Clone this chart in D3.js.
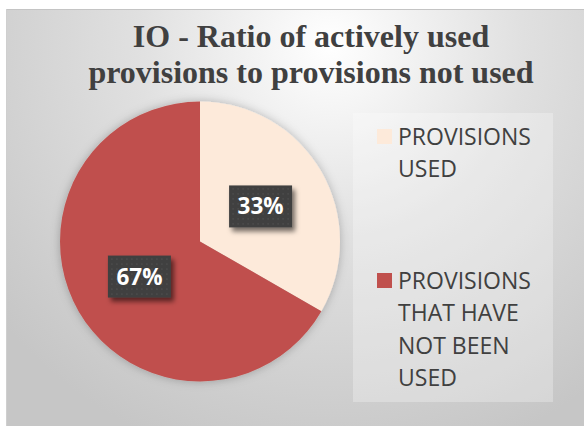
<!DOCTYPE html>
<html><head><meta charset="utf-8">
<script src="https://cdn.jsdelivr.net/npm/d3@7"></script>
<style>html,body{margin:0;padding:0;background:#fff;overflow:hidden}</style>
</head><body>
<script>
const titleLines = ["IO - Ratio of actively used", "provisions to provisions not used"];
const categories = ["PROVISIONS USED", "PROVISIONS THAT HAVE NOT BEEN USED"];
const values = [33.3, 66.7];
const legendLines = [["PROVISIONS", "USED"], ["PROVISIONS", "THAT HAVE", "NOT BEEN", "USED"]];
const colors = ["#FDEADA", "#C0504D"];

const W = 584, H = 426;
const svg = d3.select("body").append("svg").attr("width", W).attr("height", H);
const defs = svg.append("defs");

const bg = defs.append("radialGradient").attr("id", "bg").attr("gradientUnits", "userSpaceOnUse")
  .attr("cx", 330).attr("cy", 45).attr("r", 430);
bg.append("stop").attr("offset", 0).attr("stop-color", "#ffffff");
bg.append("stop").attr("offset", 0.45).attr("stop-color", "#e0e0e0");
bg.append("stop").attr("offset", 1).attr("stop-color", "#c6c6c6");

const pat = defs.append("pattern").attr("id", "dots").attr("patternUnits", "userSpaceOnUse")
  .attr("width", 5).attr("height", 5);
pat.append("rect").attr("width", 5).attr("height", 5).attr("fill", "#3f3f3f");
pat.append("rect").attr("x", 2).attr("y", 2).attr("width", 1).attr("height", 1).attr("fill", "#5e5e5e");

const sh = defs.append("filter").attr("id", "boxShadow").attr("x", "-30%").attr("y", "-30%").attr("width", "170%").attr("height", "170%");
sh.append("feDropShadow").attr("dx", 3).attr("dy", 4).attr("stdDeviation", 2.5).attr("flood-color", "#000").attr("flood-opacity", 0.55);

const psh = defs.append("filter").attr("id", "pieShadow").attr("x", "-20%").attr("y", "-20%").attr("width", "140%").attr("height", "140%");
psh.append("feDropShadow").attr("dx", 0).attr("dy", 0).attr("stdDeviation", 5).attr("flood-color", "#000").attr("flood-opacity", 0.25);

// chart area
svg.append("rect").attr("x", 6).attr("y", 9).attr("width", W - 6).attr("height", H - 9).attr("fill", "url(#bg)");
svg.append("line").attr("x1", 6).attr("x2", W).attr("y1", 9.5).attr("y2", 9.5).attr("stroke", "#c4c4c4").attr("stroke-width", 1);
svg.append("line").attr("x1", 6.5).attr("x2", 6.5).attr("y1", 9).attr("y2", H).attr("stroke", "#cfcfcf").attr("stroke-width", 1);

// title
const title = svg.append("text").attr("text-anchor", "middle")
  .attr("font-family", "'Liberation Serif','Times New Roman',serif").attr("font-weight", "bold")
  .attr("font-size", 32).attr("fill", "#404040");
titleLines.forEach((t, i) => title.append("tspan").attr("x", 311).attr("y", 47 + i * 36).text(t));

// pie
const cx = 200, cy = 241.5, R = 140;
const pie = d3.pie().sort(null).value(d => d)(values);
const arc = d3.arc().innerRadius(0).outerRadius(R);
const g = svg.append("g").attr("transform", `translate(${cx},${cy})`);
g.append("g").attr("filter", "url(#pieShadow)").selectAll("path").data(pie).join("path")
  .attr("d", arc).attr("fill", (d, i) => colors[i]);

const total = d3.sum(values);
const lbl = g.selectAll("g.lbl").data(pie).join("g").attr("class", "lbl")
  .attr("transform", d => `translate(${arc.centroid(d)})`);
lbl.append("rect").attr("x", -31.5).attr("y", -21).attr("width", 63).attr("height", 42)
  .attr("fill", "url(#dots)").attr("filter", "url(#boxShadow)");
lbl.append("text").attr("text-anchor", "middle").attr("dy", 8)
  .attr("font-family", "'Open Sans',sans-serif").attr("font-weight", "bold").attr("font-size", 22.5)
  .attr("fill", "#ffffff").text(d => Math.round(d.value / total * 100) + "%");

// legend
svg.append("rect").attr("x", 353).attr("y", 113).attr("width", 200).attr("height", 289)
  .attr("fill", "#ffffff").attr("fill-opacity", 0.28);
const itemY = [145, 289];
const lg = svg.selectAll("g.leg").data(categories).join("g").attr("class", "leg");
lg.append("rect").attr("x", 377).attr("y", (d, i) => itemY[i] - 16).attr("width", 15).attr("height", 15)
  .attr("fill", (d, i) => colors[i]);
lg.each(function (d, i) {
  const t = d3.select(this).append("text").attr("font-family", "'Open Sans',sans-serif")
    .attr("font-size", 23).attr("fill", "#404040");
  legendLines[i].forEach((ln, j) => t.append("tspan").attr("x", 398).attr("y", itemY[i] + j * 32.3).text(ln));
});
</script>
</body></html>
